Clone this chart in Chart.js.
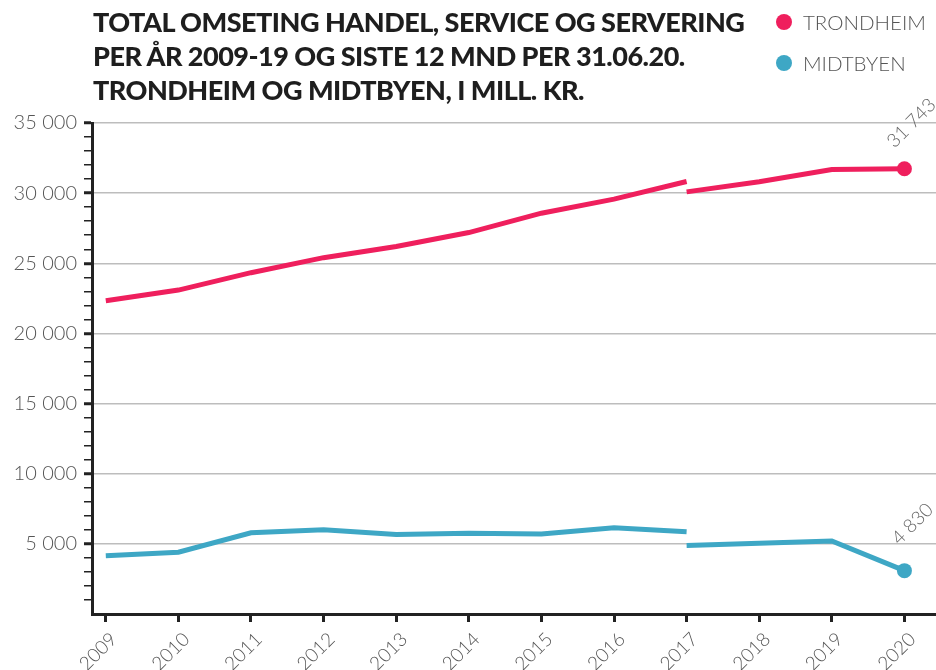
<!DOCTYPE html>
<html><head><meta charset="utf-8">
<script src="https://cdn.jsdelivr.net/npm/chart.js@4/dist/chart.umd.min.js"></script>
<style>
html,body{margin:0;padding:0;background:#fff;}
#wrap{position:relative;width:936px;height:670px;overflow:hidden;}
canvas{position:absolute;left:0;top:0;}
#title{position:absolute;left:93px;top:5px;font-family:Lato,sans-serif;font-weight:900;font-size:27px;line-height:34px;color:#1e1e1e;letter-spacing:-0.5px;white-space:nowrap;}
.leg{position:absolute;left:776px;height:20px;display:flex;align-items:center;font-family:Lato,sans-serif;font-weight:300;font-size:20.5px;color:#555;white-space:nowrap;}
.dot{display:inline-block;width:16px;height:16px;border-radius:50%;margin-right:11px;}
</style></head>
<body><div id="wrap">
<canvas id="c" width="936" height="670"></canvas>
<div id="title">TOTAL OMSETING HANDEL, SERVICE OG SERVERING<br>PER ÅR 2009-19 OG SISTE 12 MND PER 31.06.20.<br>TRONDHEIM OG MIDTBYEN, I MILL. KR.</div>
<div class="leg" style="top:12px"><span class="dot" style="background:#ef1f5d"></span>TRONDHEIM</div>
<div class="leg" style="top:53px"><span class="dot" style="background:#3ea7c5"></span>MIDTBYEN</div>
</div>
<script>
// ---- data ----
const seriesNames = ["TRONDHEIM", "MIDTBYEN"];
const yearsA = [2009, 2010, 2011, 2012, 2013, 2014, 2015, 2016, 2017];
const trondheimA = [22330, 23090, 24330, 25400, 26200, 27190, 28570, 29570, 30830];
const midtbyenA = [4160, 4400, 5790, 6000, 5660, 5760, 5710, 6140, 5860];
const yearsB = [2017, 2018, 2019, 2020];
const trondheimB = [30090, 30810, 31680, 31743];
const midtbyenB = [4890, 5040, 5210, 3090];
const tickYears = [2009, 2010, 2011, 2012, 2013, 2014, 2015, 2016, 2017, 2018, 2019, 2020];
const yTickValues = Array.from({length: 36}, (_, i) => i * 1000);
const endLabels = ["31 743", "4 830"];

const PINK = "#ef1f5d", BLUE = "#3ea7c5";
const fmt = v => String(v).replace(/\B(?=(\d{3})+(?!\d))/g, " ");
const pts = (xs, ys) => xs.map((x, i) => ({x: x, y: ys[i]}));
const build = (ya, yb) => [...pts(yearsA, ya), {x: yearsB[0], y: null}, ...pts(yearsB, yb)];

const dataT = build(trondheimA, trondheimB);
const dataM = build(midtbyenA, midtbyenB);

const lastPoint = n => ctx => ctx.dataIndex === n - 1 ? 7.5 : 0;

const endLabelPlugin = {
  id: "endLabels",
  afterDatasetsDraw(chart) {
    const c = chart.ctx;
    const offs = [[-10, -20], [-5, -25]];
    chart.data.datasets.forEach((ds, i) => {
      const meta = chart.getDatasetMeta(i);
      const p = meta.data[meta.data.length - 1];
      c.save();
      c.translate(p.x + offs[i][0], p.y + offs[i][1]);
      c.rotate(-Math.PI / 4);
      c.font = "300 19px Lato, sans-serif";
      c.fillStyle = "#666";
      c.textAlign = "left";
      c.textBaseline = "alphabetic";
      c.fillText(endLabels[i], 0, 0);
      c.restore();
    });
  }
};

new Chart(document.getElementById("c"), {
  type: "line",
  data: {
    datasets: [
      {label: seriesNames[0], data: dataT, borderColor: PINK, backgroundColor: PINK, borderWidth: 5,
       pointRadius: lastPoint(dataT.length), pointHoverRadius: 0, pointBorderWidth: 0, spanGaps: false, tension: 0},
      {label: seriesNames[1], data: dataM, borderColor: BLUE, backgroundColor: BLUE, borderWidth: 5,
       pointRadius: lastPoint(dataM.length), pointHoverRadius: 0, pointBorderWidth: 0, spanGaps: false, tension: 0}
    ]
  },
  options: {
    responsive: false,
    animation: false,
    events: [],
    layout: {autoPadding: false, padding: {top: 123, right: 0, left: 0, bottom: 0}},
    plugins: {legend: {display: false}, tooltip: {enabled: false}, title: {display: false}},
    scales: {
      x: {
        type: "linear", min: 2008.81, max: 2020.435,
        afterBuildTicks: s => { s.ticks = tickYears.map(v => ({value: v})); },
        afterFit: s => { s.height = 56; s.paddingLeft = 0; s.paddingRight = 0; },
        ticks: {autoSkip: false, minRotation: 45, maxRotation: 45, padding: 6, labelOffset: 8, color: "#555",
                font: {family: "Lato", size: 19, weight: 300}, callback: v => String(v)},
        grid: {drawOnChartArea: false, tickLength: 8, tickColor: "#222", tickWidth: 3},
        border: {color: "#222", width: 3}
      },
      y: {
        min: 0, max: 35000,
        afterBuildTicks: s => { s.ticks = yTickValues.map(v => ({value: v})); },
        afterFit: s => { s.width = 92; s.paddingTop = 0; s.paddingBottom = 0; },
        ticks: {autoSkip: false, padding: 7, color: "#555",
                font: {family: "Lato", size: 20, weight: 300},
                callback: v => (v % 5000 === 0 && v > 0) ? fmt(v) : ""},
        grid: {
          color: c => (c.tick && c.tick.value % 5000 === 0 && c.tick.value > 0) ? "#bdbdbd" : "rgba(0,0,0,0)",
          lineWidth: 1.5,
          tickLength: 8,
          tickColor: c => (c.tick && c.tick.value === 0) ? "rgba(0,0,0,0)" : "#222",
          tickWidth: c => (c.tick && c.tick.value % 5000 === 0) ? 3 : 1.5
        },
        border: {color: "#222", width: 3}
      }
    }
  },
  plugins: [endLabelPlugin]
});
</script>
</body></html>
